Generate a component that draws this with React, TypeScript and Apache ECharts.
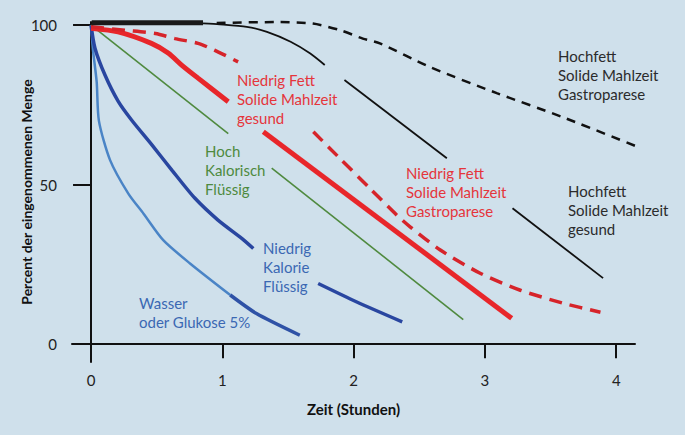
import { useEffect, useRef } from "react";
import * as echarts from "echarts";

// Axis ticks
const hourTicks = [0, 1, 2, 3, 4];
const percentTicks = [0, 50, 100];

// Wasser oder Glukose 5%
const wasserEarly = [[0, 100], [0.015, 92.2], [0.043, 82.2], [0.06, 70], [0.145, 57.7], [0.284, 47.2], [0.4, 40.9], [0.55, 32.6], [0.754, 25.3], [1.06, 15.4]];
const wasserLate = [[1.06, 15.4], [1.26, 9.6], [1.59, 2.8]];

// Niedrig Kalorie Flüssig
const kalorieA = [[0, 100], [0.03, 92.8], [0.107, 84.3], [0.206, 76.2], [0.31, 70.2], [0.465, 62.4], [0.617, 54.5], [0.79, 45.8], [0.967, 38.9], [1.15, 33.1], [1.236, 30.0]];
const kalorieB = [[1.73, 19.0], [2.02, 13.3], [2.37, 7.0]];

// Hoch Kalorisch Flüssig
const kalorischA = [[0, 100], [1.045, 66.0]];
const kalorischB = [[1.376, 55.2], [2.835, 7.7]];

// Niedrig Fett Solide Mahlzeit gesund
const fettGesundA = [[0, 99], [0.206, 97.9], [0.46, 94.3], [0.59, 91.2], [0.69, 87.5], [0.815, 83.4], [1.045, 76.0]];
const fettGesundB = [[1.312, 66.6], [3.204, 8.1]];

// Niedrig Fett Solide Mahlzeit Gastroparese
const fettGastroA = [[0, 99.5], [0.26, 98.4], [0.49, 97.4], [0.64, 95.8], [0.815, 94.3], [0.94, 92.2], [1.12, 88.5]];
const fettGastroB = [[1.693, 66.6], [1.896, 58.2], [2.125, 48.8], [2.33, 40.4], [2.43, 36.8], [2.66, 29.5], [2.96, 22.3], [3.27, 16.9], [3.59, 12.9], [3.88, 10.0]];

// Hochfett Solide Mahlzeit gesund
const hochGesundLag = [[0.005, 100.8], [0.853, 100.8]];
const hochGesundA = [[0.853, 100.6], [0.98, 100.3], [1.186, 99.5], [1.34, 97.9], [1.52, 94.8], [1.67, 91.1], [1.78, 87.5]];
const hochGesundB = [[1.93, 82.8], [2.71, 58.3]];
const hochGesundC = [[3.21, 42.6], [3.9, 20.7]];

// Hochfett Solide Mahlzeit Gastroparese
const hochGastro = [[0.957, 100.7], [1.44, 101.0], [1.69, 100.5], [1.9, 98.4], [2.07, 95.8], [2.2, 94.3], [2.58, 86.9], [3.09, 78.7], [3.59, 71.2], [4.36, 58.6]];

const FONT = "Lato, 'Open Sans', sans-serif";

type Pt = number[];

function curve(data: Pt[], color: string, width: number, dash?: number[], smooth = true) {
  return {
    type: "line",
    data,
    symbol: "none",
    clip: false,
    smooth: smooth ? 0.25 : false,
    lineStyle: { color, width, type: dash ?? "solid", cap: "butt" },
    silent: true,
  };
}

function label(text: string, x: number, y: number, fill: string) {
  return {
    type: "text",
    x,
    y,
    style: { text, fill, font: `15px ${FONT}`, lineHeight: 19, verticalAlign: "top" },
  };
}

export default function App() {
  const ref = useRef<HTMLDivElement>(null);

  useEffect(() => {
    const chart = echarts.init(ref.current!, undefined, { renderer: "svg" });
    chart.setOption({
      animation: false,
      backgroundColor: "#cfe0eb",
      textStyle: { fontFamily: FONT },
      grid: { left: 72, right: 50, top: 22, bottom: 73, containLabel: false, outerBoundsMode: "none" },
      xAxis: {
        type: "value",
        min: -0.145,
        max: 4.143,
        splitLine: { show: false },
        axisLine: { show: true, onZero: true, lineStyle: { color: "#111", width: 2 } },
        axisTick: { show: true, customValues: hourTicks, length: 14, lineStyle: { color: "#111", width: 2 } },
        axisLabel: { customValues: hourTicks, margin: 10, fontSize: 15, color: "#222", fontFamily: FONT },
        name: "Zeit (Stunden)",
        nameLocation: "middle",
        nameGap: 39,
        nameMoveOverlap: false,
        nameTextStyle: { fontSize: 15, fontWeight: "bold", color: "#111", fontFamily: FONT },
      },
      yAxis: {
        type: "value",
        min: -5.6,
        max: 101,
        splitLine: { show: false },
        axisLine: { show: true, onZero: true, lineStyle: { color: "#111", width: 2 } },
        axisTick: { show: true, customValues: percentTicks, length: 18, lineStyle: { color: "#111", width: 2 } },
        axisLabel: { customValues: percentTicks, margin: 15, fontSize: 15, color: "#222", fontFamily: FONT },
        name: "Percent der eingenommenen Menge",
        nameLocation: "middle",
        nameGap: 39,
        nameMoveOverlap: false,
        nameTextStyle: { fontSize: 14, fontWeight: "bold", color: "#111", fontFamily: FONT },
      },
      series: [
        curve(wasserEarly, "#4a84c6", 2.5),
        curve(wasserLate, "#2f52a6", 3.5),
        curve(kalorieA, "#2946a0", 3.5),
        curve(kalorieB, "#2946a0", 3.5),
        curve(kalorischA, "#4f8a3f", 1.6, undefined, false),
        curve(kalorischB, "#4f8a3f", 1.6, undefined, false),
        curve(fettGesundA, "#e8262a", 5),
        curve(fettGesundB, "#e8262a", 5, undefined, false),
        curve(fettGastroA, "#d6242a", 3.5, [13, 8]),
        curve(fettGastroB, "#d6242a", 3.5, [13, 8]),
        curve(hochGesundLag, "#1a1a1a", 5, undefined, false),
        curve(hochGesundA, "#111", 1.8),
        curve(hochGesundB, "#111", 1.8, undefined, false),
        curve(hochGesundC, "#111", 1.8, undefined, false),
        curve(hochGastro, "#111", 2.5, [9, 7]),
      ],
      graphic: [
        label("Hochfett\nSolide Mahlzeit\nGastroparese", 558, 46, "#2b2b2b"),
        label("Hochfett\nSolide Mahlzeit\ngesund", 568, 181, "#2b2b2b"),
        label("Niedrig Fett\nSolide Mahlzeit\nGastroparese", 406, 163, "#e5353b"),
        label("Niedrig Fett\nSolide Mahlzeit\ngesund", 237, 70, "#e5353b"),
        label("Hoch\nKalorisch\nFlüssig", 205, 141, "#4e8a3e"),
        label("Niedrig\nKalorie\nFlüssig", 263, 238, "#3b68b3"),
        label("Wasser\noder Glukose 5%", 139, 293, "#3b68b3"),
      ],
    });
    return () => chart.dispose();
  }, []);

  return (
    <div
      ref={ref}
      style={{ position: "fixed", left: 0, top: 0, width: 685, height: 435, background: "#cfe0eb" }}
    />
  );
}
